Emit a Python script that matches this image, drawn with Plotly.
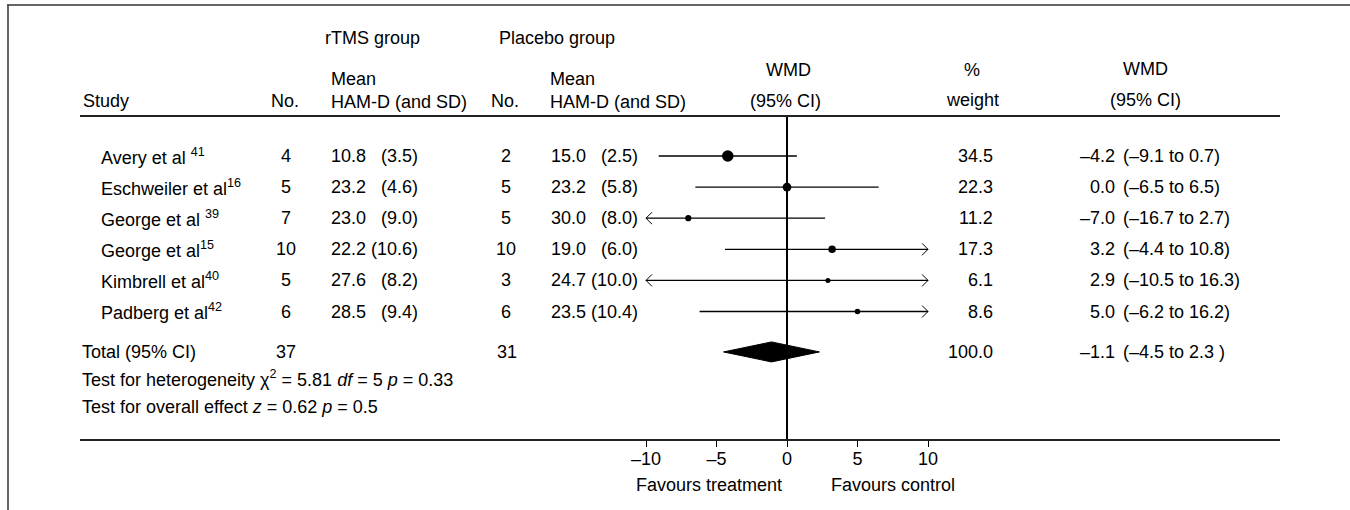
import plotly.graph_objects as go

# ---------------- data ----------------
studies = ["Avery et al", "Eschweiler et al", "George et al", "George et al", "Kimbrell et al", "Padberg et al"]
refs = ["41", "16", "39", "15", "40", "42"]
ref_gap = [" ", "", " ", "", "", ""]
n_rtms = [4, 5, 7, 10, 5, 6]
mean_rtms = [10.8, 23.2, 23.0, 22.2, 27.6, 28.5]
sd_rtms = [3.5, 4.6, 9.0, 10.6, 8.2, 9.4]
n_plac = [2, 5, 5, 10, 3, 6]
mean_plac = [15.0, 23.2, 30.0, 19.0, 24.7, 23.5]
sd_plac = [2.5, 5.8, 8.0, 6.0, 10.0, 10.4]
wmd = [-4.2, 0.0, -7.0, 3.2, 2.9, 5.0]
ci_low = [-9.1, -6.5, -16.7, -4.4, -10.5, -6.2]
ci_high = [0.7, 6.5, 2.7, 10.8, 16.3, 16.2]
weight = [34.5, 22.3, 11.2, 17.3, 6.1, 8.6]

total_n_rtms = 37
total_n_plac = 31
total_weight = 100.0
total_wmd = -1.1
total_low = -4.5
total_high = 2.3

tick_vals = [-10, -5, 0, 5, 10]
tick_text = ["\u201310", "\u20135", "0", "5", "10"]
clip_limit = 10

# ---------------- layout constants ----------------
W, H = 1350, 510
L, R, T, B = 80, 70, 117, 71
ROW0, ROWH = 156.0, 31.1
ZERO_PX, PX_PER_UNIT = 787.0, 14.1
FONT = "Liberation Sans, Arial, Helvetica, sans-serif"
FS = 18
INK = "#000000"

def px_x(p):
    return (p - L) / (W - L - R)

def px_y(p):
    return (H - B - p) / (H - T - B)

def yrow(p):
    return (p - ROW0) / ROWH

x_range = [(L - ZERO_PX) / PX_PER_UNIT, (W - R - ZERO_PX) / PX_PER_UNIT]
y_range = [yrow(H - B), yrow(T)]

def fmt(v):
    s = f"{abs(v):.1f}"
    return ("\u2013" + s) if v < 0 else s

def mean_sd(m, sd):
    # single-digit SDs are padded so the columns line up as in the table
    gap = " " if sd >= 10 else "\u00a0\u00a0 "
    return f"{fmt(m)}{gap}({fmt(sd)})"

rows = list(range(len(studies)))
y_total = 6.30
y_het = 7.14
y_overall = 8.07

fig = go.Figure()

# CI lines clipped to the display limit
ax = 6 / PX_PER_UNIT
ay = 6 / ROWH
for i in rows:
    lo = max(ci_low[i], -clip_limit)
    hi = min(ci_high[i], clip_limit)
    fig.add_trace(go.Scatter(x=[lo, hi], y=[i, i], mode="lines",
                             line=dict(color=INK, width=1.3), hoverinfo="skip", showlegend=False))
    if ci_low[i] < -clip_limit:
        fig.add_trace(go.Scatter(x=[-clip_limit + ax, -clip_limit, -clip_limit + ax],
                                 y=[i - ay, i, i + ay], mode="lines",
                                 line=dict(color=INK, width=1.0), hoverinfo="skip", showlegend=False))
    if ci_high[i] > clip_limit:
        fig.add_trace(go.Scatter(x=[clip_limit - ax, clip_limit, clip_limit - ax],
                                 y=[i - ay, i, i + ay], mode="lines",
                                 line=dict(color=INK, width=1.0), hoverinfo="skip", showlegend=False))

# point estimates, size by weight
fig.add_trace(go.Scatter(x=wmd, y=rows, mode="markers",
                         marker=dict(color=INK, opacity=1, size=[3.6 + 0.23 * w for w in weight],
                                     line=dict(width=0)),
                         hoverinfo="skip", showlegend=False))

# pooled diamond
dh = 10 / ROWH
fig.add_trace(go.Scatter(x=[total_low, total_wmd, total_high, total_wmd, total_low],
                         y=[y_total, y_total - dh, y_total, y_total + dh, y_total],
                         mode="lines", fill="toself", fillcolor=INK,
                         line=dict(color=INK, width=1), hoverinfo="skip", showlegend=False))

ann = []

def A(text, x, y, xanchor="left", yref="paper", align=None):
    d = dict(text=text, x=px_x(x), y=(px_y(y) if yref == "paper" else y),
             xref="paper", yref=yref, xanchor=xanchor, yanchor="middle",
             showarrow=False, font=dict(family=FONT, size=FS, color=INK))
    if align:
        d["align"] = align
    ann.append(d)

# headers
A("rTMS group", 323, 38)
A("Placebo group", 497, 38)
A("Mean<br>HAM-D (and SD)", 329, 91, "left", "paper", "left")
A("Mean<br>HAM-D (and SD)", 548, 91, "left", "paper", "left")
A("Study", 81, 101)
A("No.", 285, 101, "center")
A("No.", 505, 101, "center")
A("WMD", 788, 70, "center")
A("(95% CI)", 785, 101, "center")
A("%", 972, 70, "center")
A("weight", 972, 100, "center")
A("WMD", 1145, 69, "center")
A("(95% CI)", 1145, 100, "center")

# study rows
for i in rows:
    A(f"{studies[i]}{ref_gap[i]}<sup>{refs[i]}</sup>", 99, i, "left", "y")
    A(str(n_rtms[i]), 286, i, "center", "y")
    A(mean_sd(mean_rtms[i], sd_rtms[i]), 329, i, "left", "y")
    A(str(n_plac[i]), 506, i, "center", "y")
    A(mean_sd(mean_plac[i], sd_plac[i]), 549, i, "left", "y")
    A(fmt(weight[i]), 995, i, "right", "y")
    A(fmt(wmd[i]), 1117, i, "right", "y")
    A(f"({fmt(ci_low[i])} to {fmt(ci_high[i])})", 1121, i, "left", "y")

# totals
A("Total (95% CI)", 80, y_total, "left", "y")
A(str(total_n_rtms), 286, y_total, "center", "y")
A(str(total_n_plac), 507, y_total, "center", "y")
A(fmt(total_weight), 995, y_total, "right", "y")
A(fmt(total_wmd), 1117, y_total, "right", "y")
A(f"({fmt(total_low)} to {fmt(total_high)} )", 1121, y_total, "left", "y")
A("Test for heterogeneity \u03c7<sup>2</sup> = 5.81 <i>df</i> = 5 <i>p</i> = 0.33", 80, y_het, "left", "y")
A("Test for overall effect <i>z</i> = 0.62 <i>p</i> = 0.5", 80, y_overall, "left", "y")

# axis captions
A("Favours treatment", 709, 485, "center")
A("Favours control", 893, 485, "center")

shapes = [
    dict(type="line", xref="paper", yref="paper", x0=px_x(7), x1=px_x(W), y0=px_y(5), y1=px_y(5),
         line=dict(color="#333333", width=1.5)),
    dict(type="line", xref="paper", yref="paper", x0=px_x(8), x1=px_x(8), y0=px_y(5), y1=px_y(H),
         line=dict(color="#333333", width=1.5)),
]

fig.update_layout(
    width=W, height=H, autosize=False,
    margin=dict(l=L, r=R, t=T, b=B, pad=0),
    paper_bgcolor="white", plot_bgcolor="white",
    font=dict(family=FONT, size=FS, color=INK),
    annotations=ann, shapes=shapes, showlegend=False,
    xaxis=dict(range=x_range, showgrid=False, zeroline=True, zerolinecolor=INK, zerolinewidth=1.5,
               showline=True, linecolor="#222222", linewidth=2, mirror=True,
               tickmode="array", tickvals=tick_vals, ticktext=tick_text,
               ticks="outside", ticklen=6, tickwidth=1, tickcolor=INK, ticklabelstandoff=-4,
               tickfont=dict(family=FONT, size=FS, color=INK), fixedrange=True),
    yaxis=dict(range=y_range, showgrid=False, zeroline=False, showline=False,
               showticklabels=False, ticks="", fixedrange=True),
)

fig.write_html("out.html", post_script="document.body.style.margin='0';",
               config={"displayModeBar": False})
